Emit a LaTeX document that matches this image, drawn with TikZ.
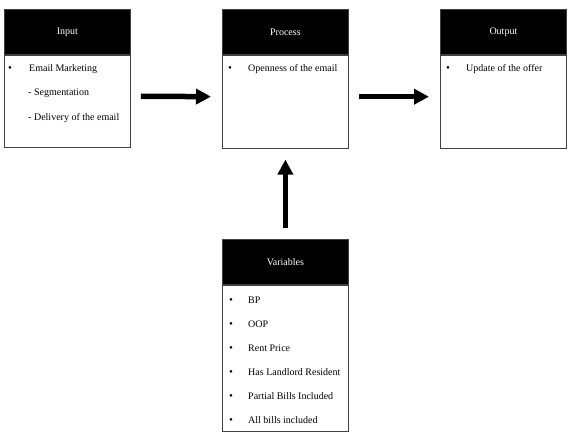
\documentclass[tikz,border=0pt]{standalone}
\usepackage{fontspec}
\setmainfont{Liberation Serif}
\usepackage{tikz}
\usetikzlibrary{arrows.meta}

\begin{document}
\begin{tikzpicture}[
    x=1pt, y=-1pt,
    font=\fontsize{10}{12}\selectfont,
    head/.style={fill=black, draw=black!75, line width=0.8pt, text=white,
                 minimum width=126pt, minimum height=45pt, inner sep=0pt, anchor=north west},
    body/.style={draw=black!75, line width=0.8pt, fill=white,
                 minimum width=126pt, inner sep=0pt, anchor=north},
    item/.style={anchor=base west, inner sep=0pt},
    dot/.style={anchor=base, inner sep=0pt, font=\fontsize{11}{12}\selectfont},
    fat arrow/.style={line width=5.5pt, -{Triangle[length=15pt,width=15pt]}}
    ]
\useasboundingbox (0,0) rectangle (568,439);

% the three upper boxes
\node[head] (inhead) at (4,9) {Input};
\node[body, minimum height=92pt] (inbody) at (inhead.south) {};
\node[head] (prohead) at (222,9) {Process};
\node[body, minimum height=93pt] (probody) at (prohead.south) {};
\node[head] (outhead) at (440,9) {Output};
\node[body, minimum height=93pt] (outbody) at (outhead.south) {};

% their texts
\node[dot] (indot) at (10,71) {\textbullet};
\node[item] (in1) at (29,71) {Email Marketing};
\node[item] (in2) at (28,95) {- Segmentation};
\node[item] (in3) at (28,120) {- Delivery of the email};
\node[dot] (prodot) at (230,71) {\textbullet};
\node[item] (pro1) at (248,71) {Openness of the email};
\node[dot] (outdot) at (448,71) {\textbullet};
\node[item] (out1) at (466,71) {Update of the offer};

% variables
\node[head] (varhead) at (222,239) {Variables};
\node[body, minimum height=146pt] (varbody) at (varhead.south) {};
\foreach \txt [count=\i] in {BP, OOP, Rent Price, Has Landlord Resident,
                             Partial Bills Included, All bills included} {
  \node[dot] (vardot\i) at (231,279+24*\i) {\textbullet};
  \node[item] (var\i) at (248,279+24*\i) {\txt};
}

% arrows
\draw[fat arrow, shorten <=10pt, shorten >=11pt]
  ([yshift=5pt]inbody.east) -- ([yshift=5pt]probody.west);
\draw[fat arrow, shorten <=10pt, shorten >=11pt]
  ([yshift=5pt]probody.east) -- ([yshift=5pt]outbody.west);
\draw[fat arrow, shorten <=11pt, shorten >=11pt]
  (varhead.north) -- (probody.south);
\end{tikzpicture}
\end{document}
